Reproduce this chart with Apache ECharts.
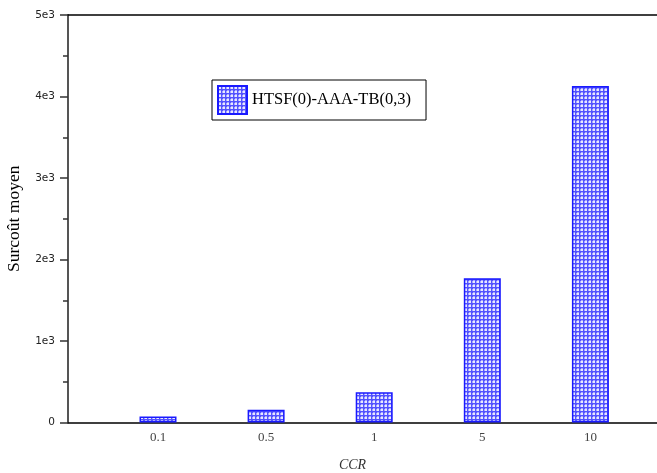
<!DOCTYPE html>
<html>
<head>
<meta charset="utf-8">
<script src="https://cdn.jsdelivr.net/npm/echarts@6/dist/echarts.min.js"></script>
<style>html,body{margin:0;padding:0;background:#fff;}#c{width:657px;height:473px;}</style>
</head>
<body>
<div id="c"></div>
<script>
var categories = ['0.1', '0.5', '1', '5', '10'];
var values = [75, 155, 370, 1770, 4130];
var seriesName = 'HTSF(0)-AAA-TB(0,3)';

// pattern fill
var pc = document.createElement('canvas');
pc.width = 4; pc.height = 4;
var g = pc.getContext('2d');
g.fillStyle = '#5252ff'; g.fillRect(0, 0, 4, 4);
g.fillStyle = '#e8e8ff';
g.fillRect(1, 1, 2, 2);
g.fillStyle = '#a8a8ff';
g.fillRect(0, 1, 1, 2); g.fillRect(1, 0, 2, 1);
var fill = { image: pc, repeat: 'repeat' };

var xMin = 0.1674, xMax = 5.616;
var chart = echarts.init(document.getElementById('c'), null, { renderer: 'canvas' });
chart.setOption({
  animation: false,
  backgroundColor: '#fff',
  grid: { left: 68, right: 0, top: 15, bottom: 50.5, outerBoundsMode: 'none', containLabel: false },
  legend: {
    left: 212, top: 80,
    padding: [5, 15, 5, 5],
    borderColor: '#000', borderWidth: 1,
    icon: 'rect',
    itemWidth: 29, itemHeight: 28, itemGap: 6,
    textStyle: { fontFamily: 'Liberation Serif', fontSize: 16.5, color: '#000' },
    data: [seriesName]
  },
  xAxis: [{
    type: 'value', min: xMin, max: xMax,
    name: 'CCR', nameLocation: 'middle', nameGap: 36,
    nameTextStyle: { fontFamily: 'Liberation Serif', fontStyle: 'italic', fontSize: 14, color: '#333', padding: [0, 20, 0, 0] },
    axisLine: { show: true, lineStyle: { color: '#000', width: 1.5 } },
    axisTick: { show: false },
    splitLine: { show: false },
    axisLabel: {
      customValues: categories.map(function (c, i) { return i + 1; }),
      formatter: function (v) { return categories[Math.round(v) - 1]; },
      fontFamily: 'Liberation Serif', fontSize: 13, color: '#444', margin: 9
    }
  }, {
    type: 'value', position: 'top', min: xMin, max: xMax,
    axisLine: { show: true, lineStyle: { color: '#000', width: 1.5 } },
    axisTick: { show: false }, axisLabel: { show: false }, splitLine: { show: false }
  }],
  yAxis: {
    type: 'value', min: 0, max: 5000, interval: 1000,
    name: 'Surcoût moyen', nameLocation: 'middle', nameGap: 45,
    nameTextStyle: { fontFamily: 'Liberation Serif', fontSize: 17.5, color: '#000' },
    axisLine: { show: true, lineStyle: { color: '#555', width: 2 } },
    axisTick: { show: true, length: 8, lineStyle: { color: '#333', width: 1.5 } },
    minorTick: { show: true, splitNumber: 2, length: 5, lineStyle: { color: '#333', width: 1.5 } },
    splitLine: { show: false },
    axisLabel: {
      formatter: function (v) { return v === 0 ? '0' : (v / 1000) + 'e3'; },
      fontFamily: 'DejaVu Sans', fontSize: 10.5, color: '#222', margin: 13
    }
  },
  series: [{
    name: seriesName,
    type: 'bar',
    barWidth: 37,
    itemStyle: { color: fill, borderColor: '#1a1aff', borderWidth: 1.5 },
    data: categories.map(function (c, i) { return [i + 1, values[i]]; })
  }]
});
</script>
</body>
</html>
